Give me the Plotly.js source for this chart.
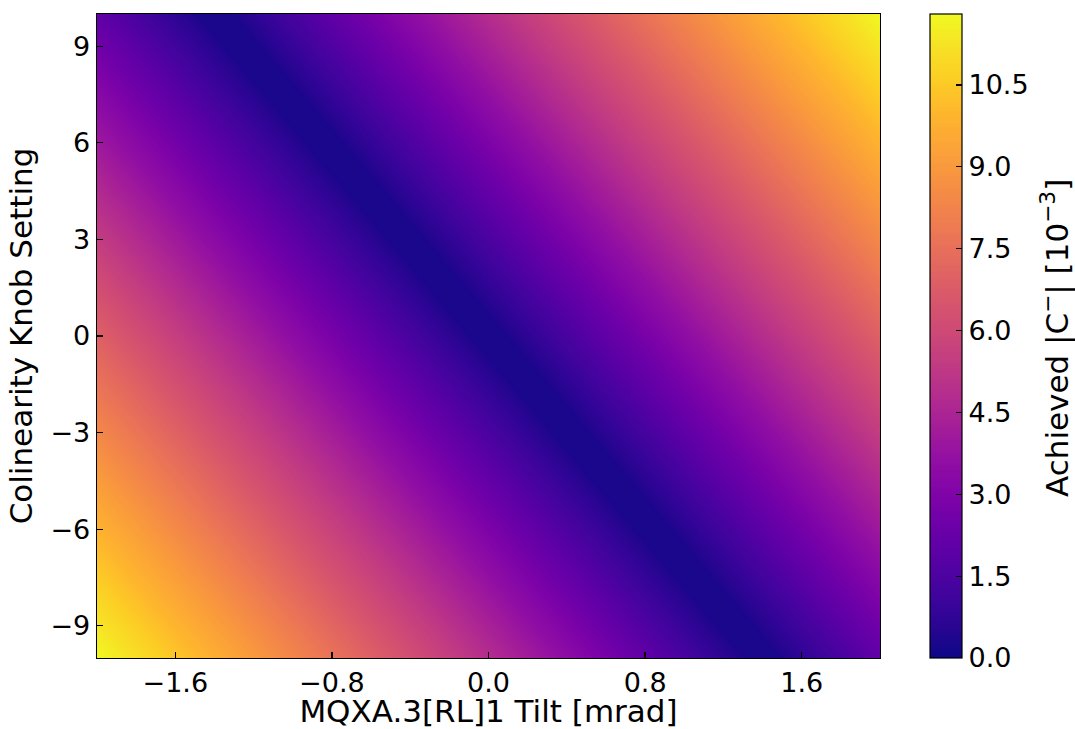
<!DOCTYPE html>
<html>
<head>
<meta charset="utf-8">
<script src="https://cdn.plot.ly/plotly-3.0.1.min.js"></script>
<style>html,body{margin:0;padding:0;background:#fff;}#chart{width:1075px;height:729px;}</style>
</head>
<body>
<div id="chart"></div>
<script>
// MQXA.3[RL]1 tilt [mrad] sample positions
const tiltValues = [-2, -1.89, -1.75, -1.61, -1.47, -1.33, -1.19, -1.05, -0.91, -0.77, -0.63, -0.49, -0.35, -0.21, -0.07,
  0.07, 0.21, 0.35, 0.49, 0.63, 0.77, 0.91, 1.05, 1.19, 1.33, 1.47, 1.61, 1.75, 1.89, 2];
// Colinearity knob setting sample positions
const knobValues = [-10, -9, -8, -7, -6, -5, -4, -3, -2, -1, 0, 1, 2, 3, 4, 5, 6, 7, 8, 9, 10];
// Achieved |C-| [1e-3], one row per knob value
const achievedC = [
  [11.80, 11.42,10.93,10.45,9.96,9.48,8.99,8.50,8.02,7.53,7.05,6.56,6.07,5.59,5.10,4.62,4.13,3.64,3.16,2.67,2.19,1.70,1.21,0.73,0.24, 0.24,0.73,1.21,1.70, 2.08],
  [11.32, 10.93,10.45,9.96,9.48,8.99,8.50,8.02,7.53,7.05,6.56,6.07,5.59,5.10,4.62,4.13,3.64,3.16,2.67,2.19,1.70,1.21,0.73,0.24, 0.24,0.73,1.21,1.70,2.19, 2.57],
  [10.83, 10.45,9.96,9.48,8.99,8.50,8.02,7.53,7.05,6.56,6.07,5.59,5.10,4.62,4.13,3.64,3.16,2.67,2.19,1.70,1.21,0.73,0.24, 0.24,0.73,1.21,1.70,2.19,2.67, 3.06],
  [10.35, 9.96,9.48,8.99,8.50,8.02,7.53,7.05,6.56,6.07,5.59,5.10,4.62,4.13,3.64,3.16,2.67,2.19,1.70,1.21,0.73,0.24, 0.24,0.73,1.21,1.70,2.19,2.67,3.16, 3.54],
  [9.86, 9.48,8.99,8.50,8.02,7.53,7.05,6.56,6.07,5.59,5.10,4.62,4.13,3.64,3.16,2.67,2.19,1.70,1.21,0.73,0.24, 0.24,0.73,1.21,1.70,2.19,2.67,3.16,3.64, 4.03],
  [9.37, 8.99,8.50,8.02,7.53,7.05,6.56,6.07,5.59,5.10,4.62,4.13,3.64,3.16,2.67,2.19,1.70,1.21,0.73,0.24, 0.24,0.73,1.21,1.70,2.19,2.67,3.16,3.64,4.13, 4.51],
  [8.89, 8.50,8.02,7.53,7.05,6.56,6.07,5.59,5.10,4.62,4.13,3.64,3.16,2.67,2.19,1.70,1.21,0.73,0.24, 0.24,0.73,1.21,1.70,2.19,2.67,3.16,3.64,4.13,4.62, 5.00],
  [8.40, 8.02,7.53,7.05,6.56,6.07,5.59,5.10,4.62,4.13,3.64,3.16,2.67,2.19,1.70,1.21,0.73,0.24, 0.24,0.73,1.21,1.70,2.19,2.67,3.16,3.64,4.13,4.62,5.10, 5.49],
  [7.92, 7.53,7.05,6.56,6.07,5.59,5.10,4.62,4.13,3.64,3.16,2.67,2.19,1.70,1.21,0.73,0.24, 0.24,0.73,1.21,1.70,2.19,2.67,3.16,3.64,4.13,4.62,5.10,5.59, 5.97],
  [7.43, 7.05,6.56,6.07,5.59,5.10,4.62,4.13,3.64,3.16,2.67,2.19,1.70,1.21,0.73,0.24, 0.24,0.73,1.21,1.70,2.19,2.67,3.16,3.64,4.13,4.62,5.10,5.59,6.07, 6.46],
  [6.94, 6.56,6.07,5.59,5.10,4.62,4.13,3.64,3.16,2.67,2.19,1.70,1.21,0.73,0.24, 0.24,0.73,1.21,1.70,2.19,2.67,3.16,3.64,4.13,4.62,5.10,5.59,6.07,6.56, 6.94],
  [6.46, 6.07,5.59,5.10,4.62,4.13,3.64,3.16,2.67,2.19,1.70,1.21,0.73,0.24, 0.24,0.73,1.21,1.70,2.19,2.67,3.16,3.64,4.13,4.62,5.10,5.59,6.07,6.56,7.05, 7.43],
  [5.97, 5.59,5.10,4.62,4.13,3.64,3.16,2.67,2.19,1.70,1.21,0.73,0.24, 0.24,0.73,1.21,1.70,2.19,2.67,3.16,3.64,4.13,4.62,5.10,5.59,6.07,6.56,7.05,7.53, 7.92],
  [5.49, 5.10,4.62,4.13,3.64,3.16,2.67,2.19,1.70,1.21,0.73,0.24, 0.24,0.73,1.21,1.70,2.19,2.67,3.16,3.64,4.13,4.62,5.10,5.59,6.07,6.56,7.05,7.53,8.02, 8.40],
  [5.00, 4.62,4.13,3.64,3.16,2.67,2.19,1.70,1.21,0.73,0.24, 0.24,0.73,1.21,1.70,2.19,2.67,3.16,3.64,4.13,4.62,5.10,5.59,6.07,6.56,7.05,7.53,8.02,8.50, 8.89],
  [4.51, 4.13,3.64,3.16,2.67,2.19,1.70,1.21,0.73,0.24, 0.24,0.73,1.21,1.70,2.19,2.67,3.16,3.64,4.13,4.62,5.10,5.59,6.07,6.56,7.05,7.53,8.02,8.50,8.99, 9.37],
  [4.03, 3.64,3.16,2.67,2.19,1.70,1.21,0.73,0.24, 0.24,0.73,1.21,1.70,2.19,2.67,3.16,3.64,4.13,4.62,5.10,5.59,6.07,6.56,7.05,7.53,8.02,8.50,8.99,9.48, 9.86],
  [3.54, 3.16,2.67,2.19,1.70,1.21,0.73,0.24, 0.24,0.73,1.21,1.70,2.19,2.67,3.16,3.64,4.13,4.62,5.10,5.59,6.07,6.56,7.05,7.53,8.02,8.50,8.99,9.48,9.96, 10.35],
  [3.06, 2.67,2.19,1.70,1.21,0.73,0.24, 0.24,0.73,1.21,1.70,2.19,2.67,3.16,3.64,4.13,4.62,5.10,5.59,6.07,6.56,7.05,7.53,8.02,8.50,8.99,9.48,9.96,10.45, 10.83],
  [2.57, 2.19,1.70,1.21,0.73,0.24, 0.24,0.73,1.21,1.70,2.19,2.67,3.16,3.64,4.13,4.62,5.10,5.59,6.07,6.56,7.05,7.53,8.02,8.50,8.99,9.48,9.96,10.45,10.93, 11.32],
  [2.08, 1.70,1.21,0.73,0.24, 0.24,0.73,1.21,1.70,2.19,2.67,3.16,3.64,4.13,4.62,5.10,5.59,6.07,6.56,7.05,7.53,8.02,8.50,8.99,9.48,9.96,10.45,10.93,11.42, 11.80]
];
const xTickVals = [-1.6, -0.8, 0.0, 0.8, 1.6];
const xTickText = ["\u22121.6", "\u22120.8", "0.0", "0.8", "1.6"];
const yTickVals = [-9, -6, -3, 0, 3, 6, 9];
const yTickText = ["\u22129", "\u22126", "\u22123", "0", "3", "6", "9"];
const cbTickVals = [0, 1.5, 3.0, 4.5, 6.0, 7.5, 9.0, 10.5];
const cbTickText = ["0.0", "1.5", "3.0", "4.5", "6.0", "7.5", "9.0", "10.5"];

const FONT = "DejaVu Sans, sans-serif";
const TICK = 27;
const TITLE = 31;

// matplotlib "plasma" colormap
const plasma = [
  [0.00, "#0d0887"], [0.05, "#2a0593"], [0.10, "#41049d"], [0.15, "#5601a4"],
  [0.20, "#6a00a8"], [0.25, "#7e03a8"], [0.30, "#8f0da4"], [0.35, "#a11b9b"],
  [0.40, "#b12a90"], [0.45, "#bf3984"], [0.50, "#cc4778"], [0.55, "#d6556d"],
  [0.60, "#e16462"], [0.65, "#ea7457"], [0.70, "#f2844b"], [0.75, "#f89540"],
  [0.80, "#fca636"], [0.85, "#feb82c"], [0.90, "#fcce25"], [0.95, "#f7e225"],
  [1.00, "#f0f921"]
];

const trace = {
  type: "contour",
  x: tiltValues,
  y: knobValues,
  z: achievedC,
  colorscale: plasma,
  zmin: 0,
  zmax: 11.8,
  zauto: false,
  autocontour: false,
  contours: {start: 0, end: 11.8, size: 0.059, coloring: "fill", showlines: false},
  line: {width: 0, smoothing: 0},
  hoverinfo: "skip",
  colorbar: {
    x: 1.0638, xanchor: "left", xref: "paper",
    y: 0, yanchor: "bottom", len: 1, lenmode: "fraction",
    thickness: 32, thicknessmode: "pixels",
    xpad: 0, ypad: 0,
    outlinewidth: 1.2, outlinecolor: "#000",
    ticks: "inside", ticklen: 6, tickwidth: 1.2, tickcolor: "#000",
    tickvals: cbTickVals, ticktext: cbTickText,
    tickfont: {family: FONT, size: TICK, color: "#000"}
  }
};

const layout = {
  width: 1075,
  height: 729,
  margin: {l: 97, r: 195, t: 14, b: 71, pad: 0},
  paper_bgcolor: "#fff",
  plot_bgcolor: "#fff",
  font: {family: FONT, size: TICK, color: "#000"},
  showlegend: false,
  xaxis: {
    range: [-2, 2],
    tickvals: xTickVals, ticktext: xTickText,
    ticks: "inside", ticklen: 6, tickwidth: 1.3, tickcolor: "#000",
    showline: true, mirror: true, linecolor: "#000", linewidth: 1.3,
    showgrid: false, zeroline: false,
    tickfont: {family: FONT, size: TICK, color: "#000"},
    title: {text: "MQXA.3[RL]1 Tilt [mrad]", font: {family: FONT, size: TITLE, color: "#000"}, standoff: 6}
  },
  yaxis: {
    range: [-10, 10],
    tickvals: yTickVals, ticktext: yTickText,
    ticks: "inside", ticklen: 6, tickwidth: 1.3, tickcolor: "#000",
    showline: true, mirror: true, linecolor: "#000", linewidth: 1.3,
    showgrid: false, zeroline: false,
    tickfont: {family: FONT, size: TICK, color: "#000"},
    title: {text: "Colinearity Knob Setting", font: {family: FONT, size: TITLE, color: "#000"}, standoff: 8}
  },
  annotations: [{
    text: "Achieved |C<sup>\u2212</sup>| [10<sup>\u22123</sup>]",
    xref: "paper", yref: "paper",
    x: 1.2248, y: 0.497, xanchor: "center", yanchor: "middle",
    textangle: -90, showarrow: false,
    font: {family: FONT, size: TITLE, color: "#000"}
  }]
};

Plotly.newPlot("chart", [trace], layout, {displayModeBar: false, staticPlot: true});
</script>
</body>
</html>
